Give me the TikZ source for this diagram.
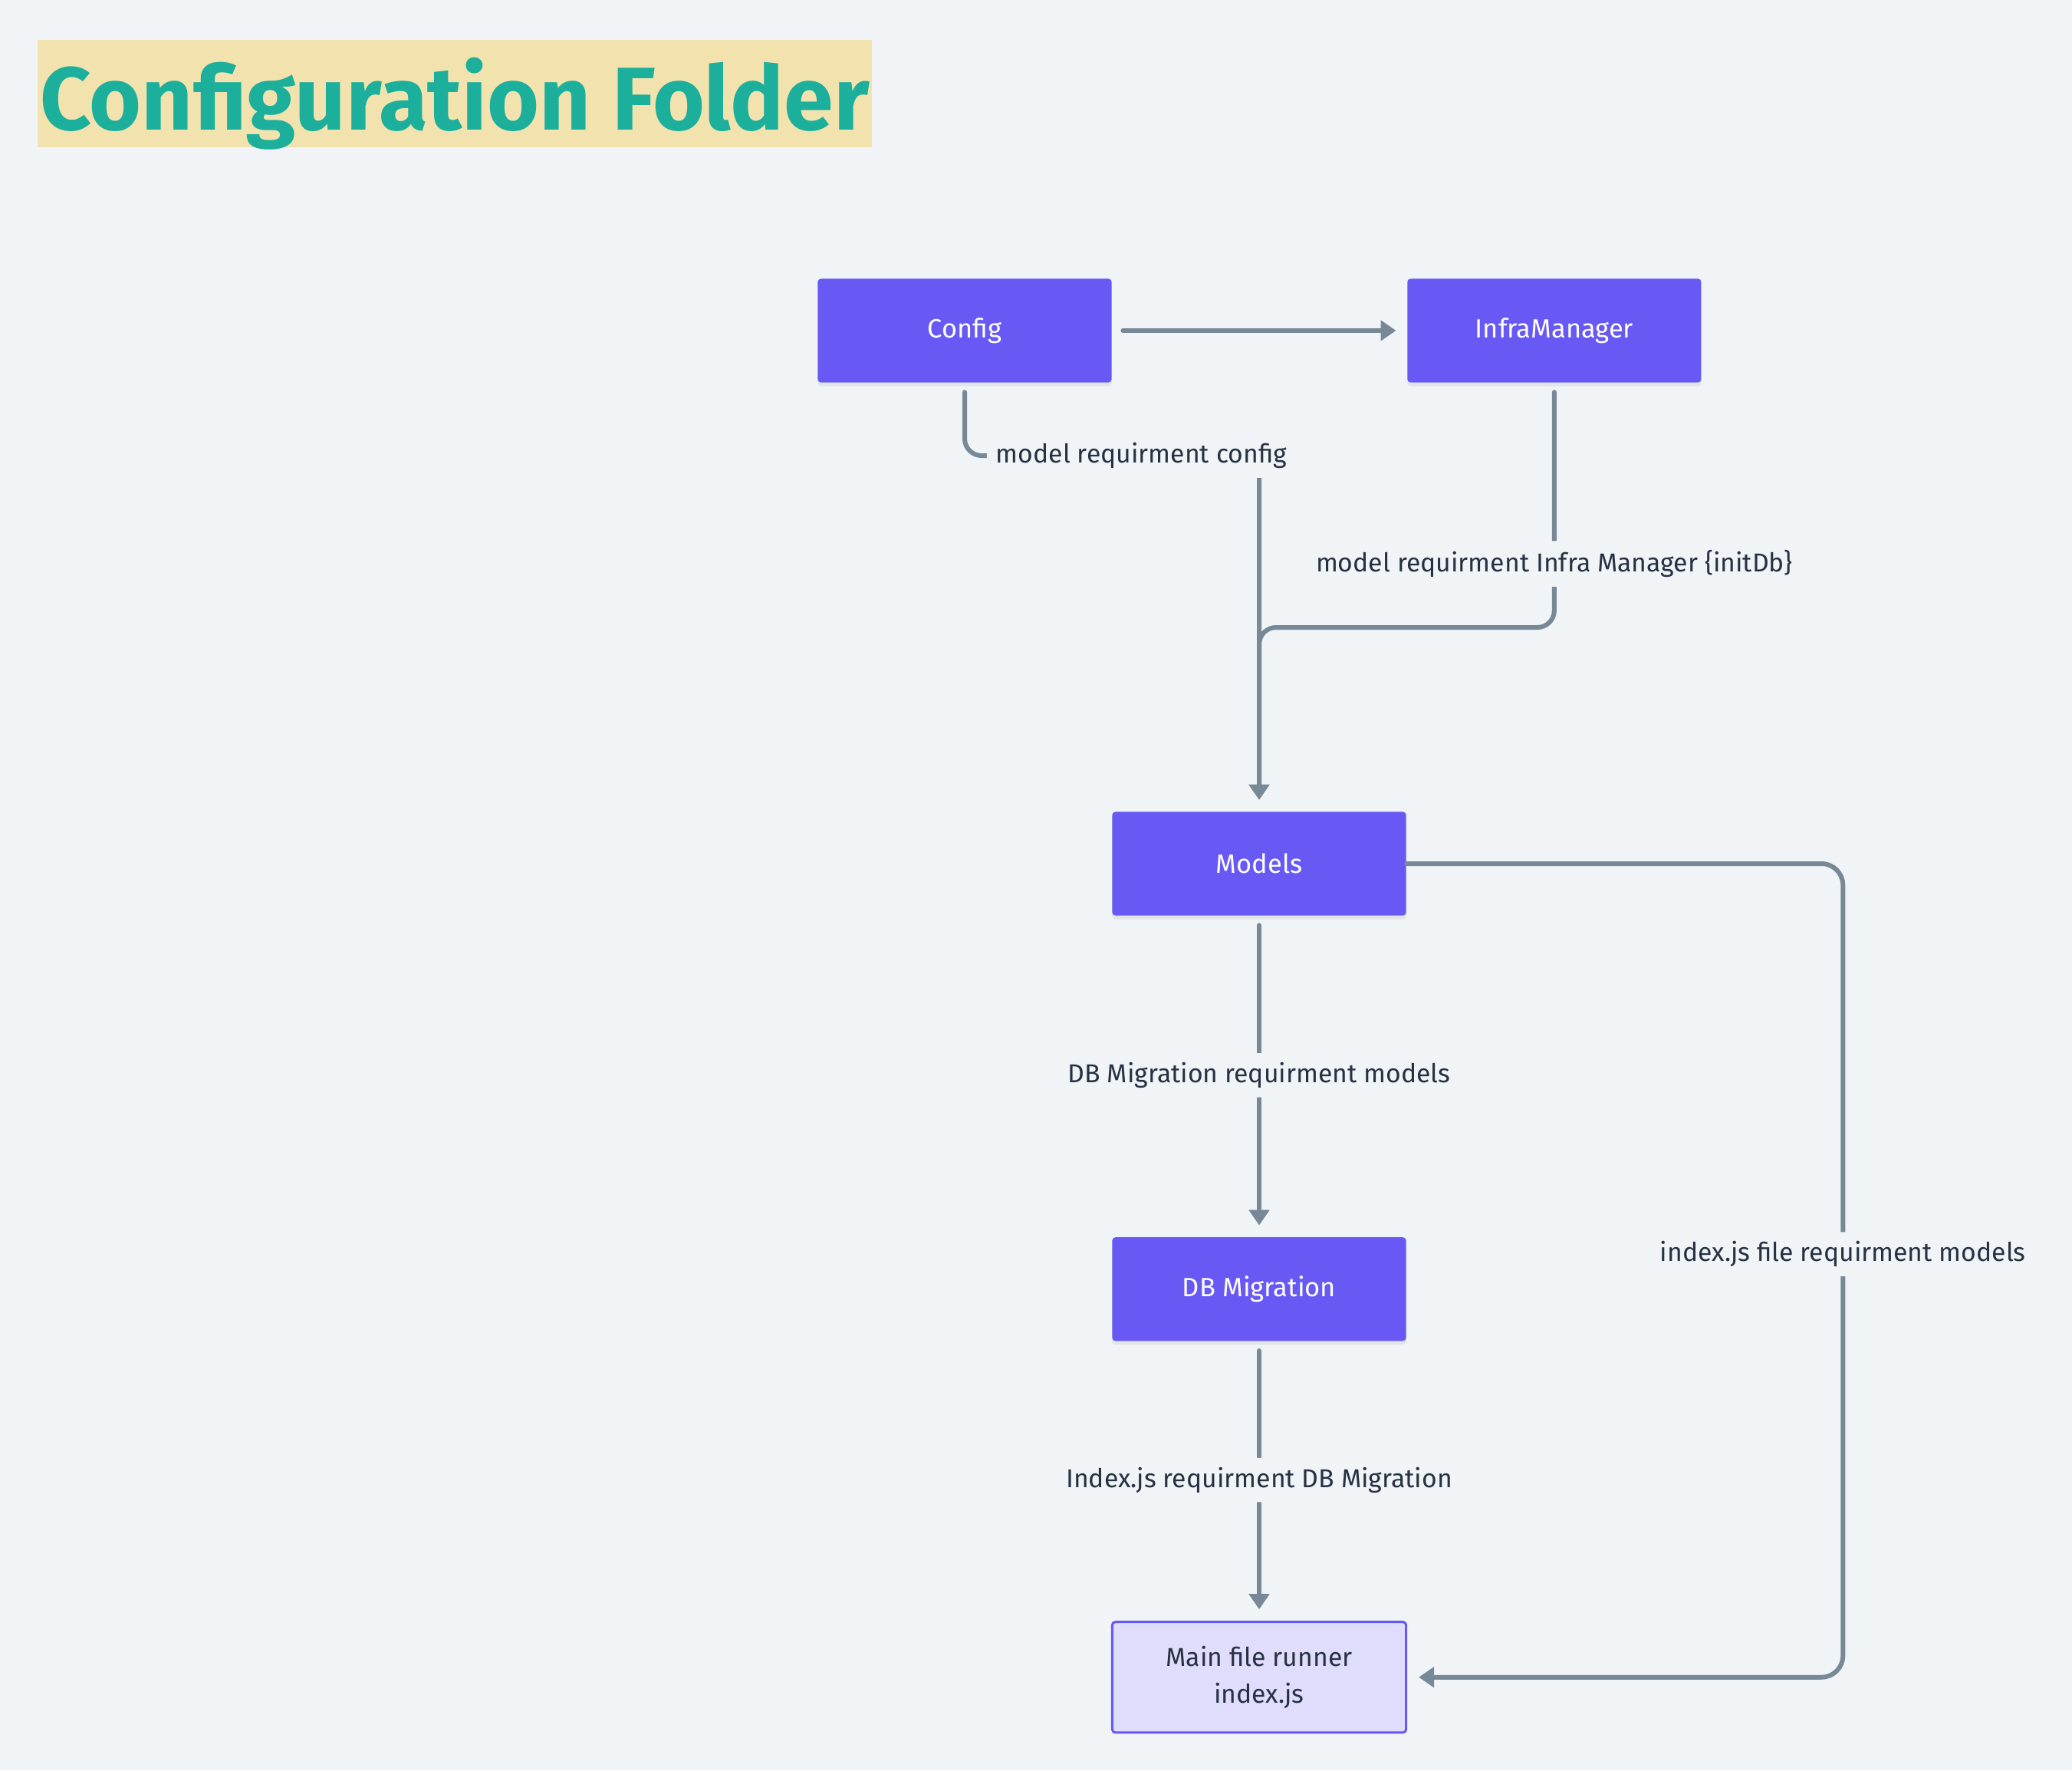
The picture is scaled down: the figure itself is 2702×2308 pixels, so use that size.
\documentclass[tikz,border=0pt]{standalone}
\usepackage{fontspec}
\setmainfont{Fira Sans}
\usetikzlibrary{positioning, arrows.meta, shadows}
\definecolor{canvas}{HTML}{F0F4F7}
\definecolor{boxfill}{HTML}{6859F5}
\definecolor{wire}{HTML}{798896}
\definecolor{ink}{HTML}{273142}
\definecolor{titlebg}{HTML}{F2E3AE}
\definecolor{titleink}{HTML}{1BAF9C}
\definecolor{runnerfill}{HTML}{DFDCFC}

\begin{document}
\begin{tikzpicture}[x=0.01cm, y=-0.01cm,
    block/.style={rectangle, rounded corners=0.04cm, fill=boxfill, text=white, minimum width=3.83cm, minimum height=1.35cm, font=\fontsize{9.8}{12}\selectfont, drop shadow={shadow xshift=0cm, shadow yshift=-0.05cm, opacity=0.12}},
    runner/.style={rectangle, rounded corners=0.04cm, fill=runnerfill, draw=boxfill, line width=0.03cm, text=ink, align=center, minimum width=3.83cm, minimum height=1.44cm, font=\fontsize{9.6}{13.6}\selectfont},
    conn/.style={draw=wire, line width=0.06cm, line cap=round, rounded corners=0.22cm, -{Triangle[width=0.26cm, length=0.2cm]}},
    lbl/.style={fill=canvas, text=ink, inner sep=0.12cm, font=\fontsize{9.6}{12}\selectfont}]
  \fill[canvas] (0,0) rectangle (2702,2308);
  \useasboundingbox (0,0) rectangle (2702,2308);
  \node[fill=titlebg, text=titleink, inner xsep=0.02cm, minimum width=10.87cm, minimum height=1.4cm, text depth=0pt, font=\fontsize{33.1}{36}\selectfont\bfseries] (title) at (593,122) {Configuration Folder};
  \node[block] (config) at (1258,431) {Config};
  \node[block, right=3.84cm of config] (infra) {InfraManager};
  \node[block] (models) at (1642,1126) {Models};
  \node[block, below=4.18cm of models] (dbmig) {DB Migration};
  \node[runner, below=3.64cm of dbmig] (main) {Main file runner\\index.js};
  \coordinate (cfgturn) at (1642,594);
  \coordinate (merge) at (1642,818);
  \draw[conn, shorten <=0.14cm, shorten >=0.14cm] (config) -- (infra);
  \draw[conn] ([yshift=-0.12cm]config.south) |- node[lbl, pos=0.8] {model requirment config} (cfgturn) -- ([yshift=0.15cm]models.north);
  \draw[conn] ([yshift=-0.12cm]infra.south) |- node[lbl, pos=0.365] {model requirment Infra Manager \{initDb\}} (merge) -- ([yshift=0.15cm]models.north);
  \draw[conn] ([yshift=-0.12cm]models.south) -- node[lbl] {DB Migration requirment models} ([yshift=0.15cm]dbmig.north);
  \draw[conn] ([yshift=-0.12cm]dbmig.south) -- node[lbl] {Index.js requirment DB Migration} ([yshift=0.15cm]main.north);
  \draw[conn, rounded corners=0.28cm] (models.east) -- ++(569,0) |- node[lbl, pos=0.24] {index.js file requirment models} ([xshift=0.15cm]main.east);
\end{tikzpicture}
\end{document}
